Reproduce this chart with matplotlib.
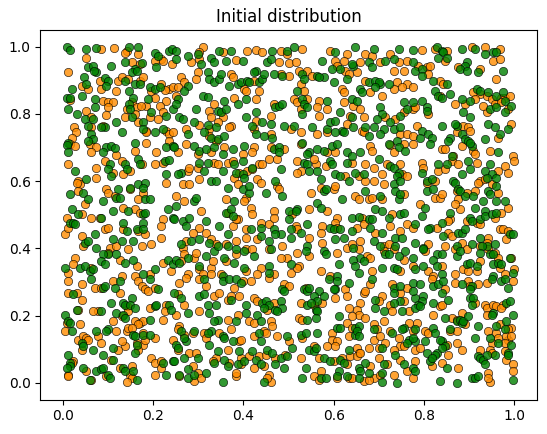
import matplotlib
matplotlib.use("Agg")
import matplotlib.pyplot as plt

# agent positions, split in three horizontal bands (y > 0.67, 0.31-0.67, < 0.31)
orange_top = [
    (0.085,0.993),(0.113,0.995),(0.141,0.988),(0.138,0.980),(0.166,0.978),(0.218,0.964),(0.222,0.959),(0.052,0.968),
    (0.152,0.954),(0.170,0.949),(0.203,0.957),(0.241,0.949),(0.010,0.924),(0.082,0.899),(0.122,0.899),(0.130,0.909),
    (0.144,0.904),(0.170,0.899),(0.177,0.911),(0.218,0.889),(0.236,0.874),(0.244,0.879),(0.225,0.871),(0.041,0.884),
    (0.056,0.874),(0.085,0.874),(0.118,0.869),(0.196,0.869),(0.015,0.842),(0.089,0.840),(0.100,0.835),(0.111,0.835),
    (0.152,0.835),(0.203,0.849),(0.229,0.840),(0.185,0.825),(0.214,0.825),(0.100,0.820),(0.141,0.815),(0.163,0.820),
    (0.172,0.825),(0.052,0.810),(0.096,0.798),(0.159,0.800),(0.192,0.790),(0.222,0.805),(0.062,0.790),(0.137,0.790),
    (0.166,0.775),(0.210,0.785),(0.024,0.762),(0.028,0.745),(0.063,0.760),(0.089,0.765),(0.185,0.750),(0.183,0.745),
    (0.229,0.750),(0.236,0.740),(0.244,0.745),(0.019,0.730),(0.015,0.711),(0.026,0.706),(0.060,0.711),(0.074,0.701),
    (0.185,0.715),(0.236,0.720),(0.063,0.686),(0.118,0.679),(0.159,0.691),(0.207,0.686),
    (0.310,0.998),(0.302,0.983),(0.284,0.954),(0.302,0.964),(0.354,0.983),(0.383,0.961),(0.409,0.988),(0.427,0.990),
    (0.442,0.983),(0.483,0.988),(0.497,0.978),(0.479,0.954),(0.501,0.951),(0.299,0.924),(0.262,0.909),(0.269,0.894),
    (0.372,0.919),(0.376,0.909),(0.402,0.874),(0.405,0.869),(0.424,0.899),(0.435,0.869),(0.483,0.919),(0.501,0.914),
    (0.295,0.904),(0.254,0.879),(0.251,0.854),(0.335,0.830),(0.379,0.849),(0.427,0.844),(0.468,0.830),(0.512,0.844),
    (0.324,0.810),(0.328,0.790),(0.354,0.790),(0.372,0.765),(0.368,0.760),(0.427,0.780),(0.460,0.795),(0.273,0.755),
    (0.302,0.768),(0.324,0.755),(0.343,0.775),(0.424,0.755),(0.505,0.755),(0.324,0.735),(0.339,0.720),(0.460,0.740),
    (0.273,0.711),(0.299,0.681),(0.357,0.701),(0.424,0.701),(0.420,0.686),(0.460,0.701),(0.490,0.696),(0.254,0.686),
    (0.328,0.686),(0.398,0.681),
    (0.530,0.993),(0.593,0.988),(0.630,0.978),(0.670,0.978),(0.685,0.973),(0.725,0.978),(0.516,0.954),(0.523,0.929),
    (0.541,0.929),(0.552,0.914),(0.604,0.959),(0.622,0.959),(0.608,0.944),(0.626,0.929),(0.659,0.954),(0.703,0.954),
    (0.744,0.954),(0.762,0.959),(0.527,0.889),(0.633,0.919),(0.652,0.924),(0.670,0.899),(0.740,0.894),(0.762,0.889),
    (0.733,0.929),(0.755,0.929),(0.534,0.869),(0.541,0.844),(0.519,0.835),(0.619,0.874),(0.622,0.864),(0.681,0.864),
    (0.707,0.854),(0.733,0.874),(0.751,0.879),(0.567,0.840),(0.564,0.820),(0.586,0.815),(0.527,0.815),(0.622,0.835),
    (0.644,0.825),(0.637,0.795),(0.659,0.815),(0.667,0.790),(0.714,0.790),(0.737,0.785),(0.755,0.805),(0.567,0.795),
    (0.630,0.770),(0.527,0.745),(0.564,0.740),(0.586,0.745),(0.663,0.750),(0.667,0.745),(0.747,0.740),(0.762,0.740),
    (0.527,0.711),(0.604,0.686),(0.586,0.686),(0.681,0.706),(0.685,0.691),(0.725,0.709),(0.733,0.686),(0.755,0.711),
    (0.795,0.990),(0.825,0.993),(0.851,0.988),(0.847,0.959),(0.906,0.998),(0.935,0.998),(0.968,0.993),(0.954,0.959),
    (0.968,0.964),(0.788,0.944),(0.806,0.939),(0.814,0.944),(0.810,0.919),(0.876,0.939),(0.924,0.934),(0.777,0.879),
    (0.836,0.899),(0.843,0.889),(0.961,0.904),(0.836,0.854),(0.924,0.859),(0.909,0.864),(0.939,0.854),(0.950,0.844),
    (0.972,0.849),(0.979,0.849),(0.990,0.854),(0.869,0.830),(0.891,0.830),(0.913,0.844),(0.777,0.815),(0.781,0.820),
    (0.810,0.800),(0.939,0.805),(0.957,0.830),(0.972,0.835),(0.987,0.815),(0.932,0.825),(0.784,0.765),(0.777,0.735),
    (0.777,0.711),(0.873,0.745),(0.887,0.765),(0.898,0.760),(0.902,0.750),(0.840,0.696),(0.847,0.696),(0.965,0.730),
    (0.994,0.770),(0.884,0.706),(0.909,0.691),(0.913,0.681),(0.865,0.676),(0.946,0.691),(0.998,0.676),
]

green_top = [
    (0.008,0.998),(0.015,0.991),(0.050,0.993),(0.074,0.995),(0.146,0.998),(0.166,0.998),(0.203,0.980),(0.210,0.973),
    (0.236,0.988),(0.241,0.993),(0.138,0.954),(0.175,0.951),(0.207,0.939),(0.056,0.939),(0.067,0.944),(0.074,0.924),
    (0.069,0.929),(0.107,0.944),(0.159,0.934),(0.152,0.924),(0.165,0.929),(0.047,0.911),(0.093,0.907),(0.099,0.899),
    (0.096,0.884),(0.137,0.899),(0.159,0.889),(0.170,0.889),(0.192,0.879),(0.203,0.874),(0.052,0.889),(0.019,0.874),
    (0.146,0.869),(0.214,0.879),(0.008,0.849),(0.015,0.847),(0.041,0.854),(0.071,0.844),(0.155,0.849),(0.146,0.830),
    (0.188,0.844),(0.244,0.815),(0.012,0.815),(0.071,0.820),(0.148,0.815),(0.030,0.800),(0.152,0.792),(0.196,0.805),
    (0.229,0.795),(0.049,0.785),(0.067,0.785),(0.118,0.775),(0.177,0.775),(0.056,0.765),(0.093,0.762),(0.085,0.762),
    (0.130,0.745),(0.177,0.755),(0.203,0.745),(0.222,0.755),(0.063,0.740),(0.067,0.725),(0.056,0.720),(0.012,0.715),
    (0.008,0.709),(0.096,0.701),(0.107,0.706),(0.115,0.699),(0.089,0.686),(0.159,0.713),(0.229,0.703),(0.244,0.706),
    (0.012,0.686),
    (0.251,0.988),(0.251,0.964),(0.276,0.973),(0.299,0.978),(0.306,0.949),(0.328,0.968),(0.335,0.954),(0.346,0.988),
    (0.372,0.988),(0.361,0.959),(0.398,0.959),(0.464,0.986),(0.497,0.988),(0.453,0.954),(0.460,0.964),(0.276,0.884),
    (0.269,0.869),(0.321,0.924),(0.324,0.904),(0.335,0.894),(0.346,0.904),(0.350,0.919),(0.368,0.884),(0.387,0.889),
    (0.394,0.894),(0.409,0.899),(0.413,0.894),(0.427,0.929),(0.424,0.924),(0.435,0.894),(0.442,0.904),(0.446,0.919),
    (0.468,0.919),(0.486,0.914),(0.254,0.844),(0.251,0.830),(0.310,0.854),(0.321,0.851),(0.357,0.840),(0.387,0.830),
    (0.405,0.844),(0.471,0.820),(0.479,0.825),(0.486,0.830),(0.295,0.815),(0.343,0.810),(0.350,0.805),(0.361,0.815),
    (0.405,0.790),(0.427,0.805),(0.258,0.790),(0.265,0.785),(0.276,0.740),(0.291,0.775),(0.321,0.768),(0.339,0.760),
    (0.420,0.765),(0.442,0.775),(0.460,0.770),(0.490,0.765),(0.313,0.745),(0.328,0.730),(0.343,0.725),(0.357,0.735),
    (0.427,0.740),(0.446,0.735),(0.464,0.730),(0.291,0.706),(0.302,0.691),(0.317,0.696),(0.354,0.681),(0.376,0.696),
    (0.402,0.706),(0.468,0.696),(0.479,0.701),(0.479,0.686),(0.247,0.701),(0.335,0.701),
    (0.512,0.998),(0.604,0.983),(0.648,0.998),(0.689,0.993),(0.744,0.993),(0.575,0.959),(0.597,0.934),(0.615,0.934),
    (0.644,0.944),(0.641,0.949),(0.678,0.954),(0.685,0.939),(0.714,0.959),(0.733,0.964),(0.530,0.919),(0.534,0.904),
    (0.564,0.914),(0.578,0.909),(0.567,0.909),(0.630,0.904),(0.600,0.894),(0.678,0.894),(0.692,0.899),(0.703,0.889),
    (0.700,0.894),(0.722,0.889),(0.519,0.869),(0.530,0.844),(0.641,0.844),(0.659,0.874),(0.663,0.864),(0.692,0.879),
    (0.586,0.840),(0.534,0.830),(0.541,0.820),(0.652,0.840),(0.615,0.805),(0.641,0.790),(0.703,0.820),(0.707,0.800),
    (0.725,0.775),(0.747,0.795),(0.755,0.835),(0.762,0.815),(0.530,0.800),(0.512,0.765),(0.552,0.760),(0.586,0.755),
    (0.593,0.775),(0.604,0.780),(0.619,0.750),(0.644,0.760),(0.604,0.745),(0.622,0.745),(0.670,0.760),(0.689,0.760),
    (0.696,0.785),(0.711,0.755),(0.733,0.755),(0.747,0.760),(0.678,0.735),(0.703,0.740),(0.530,0.715),(0.545,0.686),
    (0.541,0.681),(0.564,0.696),(0.578,0.691),(0.597,0.706),(0.608,0.711),(0.630,0.686),(0.641,0.676),(0.659,0.686),
    (0.722,0.711),(0.740,0.720),(0.744,0.701),(0.759,0.691),
    (0.775,0.991),(0.829,1.000),(0.840,0.988),(0.843,0.983),(0.832,0.968),(0.851,0.968),(0.884,0.993),(0.913,0.993),
    (0.935,0.978),(0.954,0.983),(0.961,0.983),(0.777,0.954),(0.781,0.929),(0.795,0.934),(0.795,0.914),(0.895,0.954),
    (0.891,0.944),(0.880,0.934),(0.895,0.929),(0.921,0.924),(0.976,0.929),(0.821,0.899),(0.851,0.889),(0.825,0.869),
    (0.832,0.854),(0.840,0.849),(0.858,0.859),(0.917,0.874),(0.924,0.869),(0.943,0.864),(0.961,0.854),(0.976,0.864),
    (0.884,0.844),(0.902,0.840),(0.777,0.835),(0.795,0.840),(0.806,0.820),(0.806,0.810),(0.946,0.815),(0.961,0.820),
    (0.979,0.840),(0.994,0.825),(0.979,0.805),(0.887,0.805),(0.902,0.790),(0.795,0.750),(0.792,0.730),(0.810,0.740),
    (0.818,0.730),(0.814,0.711),(0.840,0.765),(0.873,0.765),(0.869,0.770),(0.884,0.740),(0.858,0.730),(0.854,0.720),
    (0.943,0.770),(0.957,0.760),(0.987,0.755),(0.968,0.740),(0.935,0.725),(0.891,0.725),(0.898,0.720),(0.906,0.706),
    (0.902,0.715),(0.862,0.676),(0.965,0.686),
]

orange_mid = [
    (0.010,0.652),(0.034,0.601),(0.038,0.591),(0.030,0.596),(0.074,0.640),(0.074,0.610),(0.093,0.660),(0.111,0.625),
    (0.130,0.660),(0.133,0.620),(0.148,0.630),(0.174,0.650),(0.203,0.650),(0.222,0.655),(0.229,0.596),(0.034,0.571),
    (0.049,0.531),(0.096,0.576),(0.100,0.566),(0.115,0.556),(0.148,0.576),(0.177,0.566),(0.166,0.546),(0.008,0.491),
    (0.041,0.501),(0.063,0.491),(0.082,0.491),(0.133,0.521),(0.159,0.516),(0.170,0.506),(0.222,0.487),(0.004,0.442),
    (0.012,0.462),(0.045,0.407),(0.041,0.437),(0.093,0.457),(0.100,0.462),(0.104,0.402),(0.133,0.457),(0.144,0.397),
    (0.166,0.452),(0.181,0.442),(0.218,0.467),(0.218,0.432),(0.196,0.412),(0.174,0.407),(0.118,0.407),(0.100,0.387),
    (0.126,0.367),(0.163,0.348),(0.026,0.372),(0.023,0.353),(0.012,0.328),(0.063,0.343),(0.130,0.318),(0.159,0.318),
    (0.192,0.323),(0.222,0.358),(0.240,0.333),
    (0.276,0.630),(0.280,0.640),(0.299,0.640),(0.335,0.655),(0.343,0.650),(0.365,0.655),(0.376,0.660),(0.391,0.625),
    (0.409,0.630),(0.420,0.635),(0.435,0.650),(0.442,0.650),(0.457,0.665),(0.475,0.665),(0.265,0.591),(0.280,0.591),
    (0.302,0.606),(0.379,0.610),(0.387,0.591),(0.405,0.551),(0.431,0.606),(0.438,0.596),(0.475,0.586),(0.479,0.576),
    (0.251,0.556),(0.269,0.541),(0.306,0.511),(0.361,0.546),(0.402,0.541),(0.365,0.506),(0.387,0.487),(0.416,0.521),
    (0.420,0.501),(0.438,0.477),(0.468,0.511),(0.508,0.501),(0.302,0.462),(0.288,0.447),(0.376,0.467),(0.383,0.487),
    (0.405,0.457),(0.457,0.472),(0.468,0.491),(0.265,0.402),(0.273,0.422),(0.317,0.447),(0.328,0.427),(0.339,0.412),
    (0.361,0.412),(0.383,0.422),(0.405,0.432),(0.405,0.397),(0.420,0.397),(0.431,0.427),(0.457,0.397),(0.486,0.407),
    (0.497,0.372),(0.269,0.382),(0.262,0.362),(0.291,0.372),(0.295,0.387),(0.302,0.338),(0.328,0.343),(0.332,0.362),
    (0.361,0.362),(0.383,0.382),(0.405,0.333),(0.438,0.343),(0.468,0.323),(0.483,0.372),(0.505,0.328),(0.276,0.323),
    (0.310,0.323),(0.328,0.323),(0.350,0.323),(0.431,0.323),
    (0.519,0.660),(0.527,0.630),(0.560,0.650),(0.556,0.665),(0.582,0.645),(0.641,0.655),(0.670,0.650),(0.689,0.640),
    (0.707,0.620),(0.718,0.650),(0.747,0.650),(0.751,0.620),(0.519,0.625),(0.626,0.615),(0.656,0.615),(0.670,0.601),
    (0.689,0.601),(0.711,0.591),(0.762,0.615),(0.549,0.566),(0.571,0.581),(0.600,0.576),(0.604,0.586),(0.648,0.556),
    (0.656,0.546),(0.678,0.546),(0.685,0.551),(0.707,0.546),(0.755,0.561),(0.545,0.516),(0.586,0.511),(0.608,0.491),
    (0.663,0.491),(0.729,0.501),(0.516,0.467),(0.519,0.457),(0.545,0.432),(0.575,0.467),(0.604,0.477),(0.608,0.462),
    (0.652,0.462),(0.667,0.472),(0.692,0.447),(0.725,0.467),(0.747,0.452),(0.762,0.472),(0.571,0.447),(0.575,0.417),
    (0.630,0.402),(0.641,0.412),(0.659,0.422),(0.711,0.407),(0.722,0.412),(0.519,0.387),(0.545,0.377),(0.608,0.387),
    (0.656,0.397),(0.674,0.377),(0.681,0.372),(0.711,0.392),(0.733,0.397),(0.755,0.367),(0.523,0.348),(0.519,0.343),
    (0.571,0.333),(0.593,0.318),(0.685,0.333),(0.747,0.333),
    (0.795,0.655),(0.799,0.640),(0.832,0.630),(0.847,0.635),(0.862,0.660),(0.876,0.650),(0.917,0.655),(0.924,0.601),
    (0.921,0.596),(0.935,0.606),(0.965,0.630),(0.979,0.645),(0.987,0.625),(0.999,0.660),(0.806,0.596),(0.825,0.601),
    (0.825,0.551),(0.836,0.551),(0.840,0.561),(0.873,0.571),(0.876,0.546),(0.895,0.566),(0.913,0.571),(0.965,0.566),
    (0.950,0.591),(0.792,0.531),(0.858,0.487),(0.854,0.482),(0.880,0.516),(0.869,0.531),(0.895,0.482),(0.917,0.477),
    (0.924,0.472),(0.957,0.491),(0.987,0.521),(0.972,0.506),(0.777,0.462),(0.829,0.462),(0.854,0.447),(0.862,0.437),
    (0.943,0.432),(0.939,0.417),(0.968,0.457),(0.976,0.457),(0.987,0.452),(0.983,0.427),(0.803,0.392),(0.810,0.412),
    (0.847,0.407),(0.869,0.397),(0.884,0.417),(0.895,0.397),(0.924,0.407),(0.943,0.397),(0.957,0.387),(0.965,0.372),
    (0.777,0.348),(0.810,0.333),(0.840,0.348),(0.821,0.318),(0.869,0.323),(0.887,0.338),(0.898,0.333),(0.924,0.362),
    (0.917,0.333),(0.968,0.343),(0.994,0.372),(0.999,0.338),(0.979,0.323),
]

green_mid = [
    (0.026,0.630),(0.052,0.606),(0.104,0.650),(0.100,0.635),(0.107,0.615),(0.137,0.650),(0.141,0.635),(0.166,0.665),
    (0.170,0.650),(0.225,0.660),(0.236,0.662),(0.229,0.620),(0.015,0.561),(0.045,0.566),(0.056,0.546),(0.089,0.541),
    (0.122,0.576),(0.118,0.551),(0.126,0.551),(0.148,0.581),(0.166,0.591),(0.181,0.596),(0.177,0.581),(0.181,0.546),
    (0.192,0.546),(0.019,0.516),(0.015,0.477),(0.023,0.477),(0.026,0.472),(0.034,0.501),(0.085,0.491),(0.111,0.511),
    (0.144,0.511),(0.177,0.501),(0.181,0.506),(0.177,0.477),(0.233,0.516),(0.244,0.491),(0.049,0.417),(0.056,0.422),
    (0.071,0.442),(0.074,0.402),(0.111,0.427),(0.133,0.477),(0.141,0.452),(0.130,0.422),(0.155,0.422),(0.163,0.457),
    (0.177,0.457),(0.118,0.382),(0.100,0.382),(0.089,0.382),(0.085,0.362),(0.093,0.353),(0.137,0.358),(0.155,0.367),
    (0.004,0.343),(0.038,0.343),(0.049,0.348),(0.060,0.333),(0.067,0.338),(0.177,0.323),(0.203,0.338),(0.233,0.367),
    (0.244,0.353),
    (0.262,0.625),(0.254,0.620),(0.302,0.655),(0.313,0.630),(0.321,0.655),(0.354,0.630),(0.379,0.650),(0.383,0.625),
    (0.398,0.660),(0.398,0.620),(0.402,0.610),(0.420,0.640),(0.483,0.635),(0.328,0.601),(0.339,0.601),(0.365,0.581),
    (0.398,0.576),(0.413,0.566),(0.413,0.586),(0.449,0.566),(0.471,0.601),(0.486,0.556),(0.251,0.526),(0.291,0.541),
    (0.295,0.551),(0.379,0.541),(0.361,0.506),(0.372,0.516),(0.376,0.496),(0.501,0.511),(0.247,0.487),(0.265,0.482),
    (0.280,0.491),(0.317,0.482),(0.273,0.467),(0.346,0.467),(0.365,0.442),(0.416,0.457),(0.438,0.462),(0.468,0.457),
    (0.501,0.487),(0.505,0.457),(0.483,0.442),(0.262,0.412),(0.284,0.422),(0.302,0.427),(0.324,0.417),(0.335,0.392),
    (0.343,0.407),(0.365,0.407),(0.383,0.397),(0.402,0.392),(0.424,0.377),(0.438,0.437),(0.457,0.422),(0.471,0.442),
    (0.460,0.397),(0.505,0.432),(0.251,0.367),(0.258,0.358),(0.276,0.372),(0.302,0.348),(0.317,0.377),(0.357,0.372),
    (0.379,0.358),(0.402,0.343),(0.457,0.348),(0.457,0.328),(0.505,0.353),(0.354,0.318),
    (0.534,0.655),(0.541,0.650),(0.545,0.630),(0.593,0.660),(0.597,0.650),(0.630,0.655),(0.700,0.665),(0.725,0.645),
    (0.733,0.640),(0.744,0.625),(0.740,0.615),(0.564,0.630),(0.571,0.606),(0.604,0.620),(0.615,0.615),(0.633,0.601),
    (0.648,0.625),(0.667,0.620),(0.733,0.591),(0.747,0.601),(0.578,0.571),(0.582,0.576),(0.619,0.546),(0.670,0.571),
    (0.703,0.556),(0.737,0.571),(0.744,0.546),(0.747,0.561),(0.519,0.516),(0.516,0.511),(0.564,0.536),(0.571,0.521),
    (0.641,0.491),(0.656,0.493),(0.678,0.487),(0.685,0.487),(0.692,0.516),(0.707,0.511),(0.722,0.491),(0.747,0.501),
    (0.755,0.506),(0.527,0.447),(0.541,0.472),(0.593,0.462),(0.600,0.457),(0.615,0.457),(0.641,0.452),(0.681,0.462),
    (0.707,0.447),(0.737,0.432),(0.751,0.432),(0.604,0.427),(0.622,0.432),(0.644,0.402),(0.689,0.422),(0.703,0.407),
    (0.737,0.407),(0.541,0.407),(0.538,0.392),(0.578,0.392),(0.582,0.382),(0.659,0.372),(0.667,0.362),(0.714,0.382),
    (0.722,0.382),(0.744,0.377),(0.759,0.392),(0.611,0.353),(0.608,0.318),(0.644,0.367),(0.648,0.348),(0.656,0.328),
    (0.707,0.343),(0.733,0.343),(0.740,0.338),
    (0.795,0.625),(0.832,0.650),(0.851,0.650),(0.884,0.620),(0.898,0.660),(0.902,0.635),(0.935,0.630),(0.946,0.650),
    (0.950,0.620),(0.939,0.610),(0.961,0.610),(0.806,0.601),(0.818,0.606),(0.806,0.571),(0.821,0.576),(0.865,0.601),
    (0.869,0.596),(0.876,0.576),(0.880,0.571),(0.891,0.556),(0.909,0.556),(0.932,0.541),(0.943,0.571),(0.946,0.561),
    (0.979,0.541),(0.961,0.541),(0.961,0.586),(0.803,0.521),(0.858,0.506),(0.913,0.521),(0.902,0.491),(0.906,0.482),
    (0.924,0.487),(0.935,0.511),(0.935,0.496),(0.950,0.501),(0.961,0.506),(0.781,0.472),(0.795,0.496),(0.814,0.462),
    (0.810,0.457),(0.840,0.477),(0.876,0.447),(0.884,0.447),(0.891,0.457),(0.843,0.437),(0.924,0.432),(0.939,0.407),
    (0.957,0.412),(0.990,0.442),(0.998,0.442),(0.781,0.417),(0.799,0.402),(0.799,0.397),(0.829,0.382),(0.840,0.382),
    (0.873,0.407),(0.873,0.377),(0.880,0.392),(0.906,0.412),(0.928,0.407),(0.924,0.387),(0.946,0.382),(0.954,0.382),
    (0.990,0.372),(0.777,0.372),(0.781,0.338),(0.799,0.348),(0.821,0.367),(0.829,0.348),(0.840,0.323),(0.895,0.353),
    (0.902,0.358),(0.917,0.348),(0.954,0.353),(0.965,0.358),(0.972,0.353),(0.998,0.328),(0.954,0.318),
]

orange_low = [
    (0.010,0.303),(0.041,0.295),(0.071,0.283),(0.085,0.283),(0.111,0.303),(0.126,0.268),(0.166,0.303),(0.174,0.288),
    (0.181,0.278),(0.188,0.273),(0.203,0.283),(0.012,0.268),(0.030,0.268),(0.041,0.248),(0.078,0.213),(0.141,0.228),
    (0.144,0.213),(0.130,0.198),(0.192,0.223),(0.229,0.233),(0.008,0.179),(0.004,0.154),(0.038,0.174),(0.034,0.218),
    (0.067,0.213),(0.111,0.184),(0.118,0.154),(0.078,0.139),(0.159,0.184),(0.170,0.179),(0.177,0.184),(0.166,0.174),
    (0.222,0.188),(0.225,0.213),(0.141,0.154),(0.144,0.164),(0.152,0.164),(0.177,0.149),(0.203,0.134),(0.163,0.119),
    (0.177,0.114),(0.181,0.129),(0.137,0.109),(0.130,0.124),(0.244,0.129),(0.034,0.129),(0.045,0.139),(0.052,0.134),
    (0.056,0.129),(0.041,0.099),(0.085,0.119),(0.122,0.099),(0.166,0.099),(0.023,0.064),(0.019,0.060),(0.012,0.025),
    (0.012,0.020),(0.052,0.035),(0.096,0.020),(0.107,0.069),(0.126,0.045),(0.152,0.050),(0.148,0.025),(0.152,0.015),
    (0.141,0.002),(0.196,0.074),(0.203,0.060),(0.218,0.064),(0.218,0.045),(0.203,0.025),(0.063,0.010),
    (0.258,0.298),(0.273,0.313),(0.254,0.263),(0.302,0.308),(0.317,0.288),(0.379,0.283),(0.398,0.303),(0.416,0.303),
    (0.457,0.313),(0.490,0.293),(0.501,0.288),(0.335,0.258),(0.346,0.268),(0.365,0.248),(0.372,0.258),(0.391,0.258),
    (0.424,0.253),(0.431,0.243),(0.468,0.238),(0.453,0.218),(0.269,0.233),(0.251,0.203),(0.302,0.213),(0.365,0.188),
    (0.387,0.203),(0.413,0.184),(0.424,0.179),(0.460,0.184),(0.258,0.169),(0.254,0.159),(0.269,0.144),(0.288,0.149),
    (0.313,0.149),(0.317,0.134),(0.346,0.149),(0.372,0.159),(0.391,0.124),(0.394,0.129),(0.424,0.139),(0.446,0.154),
    (0.449,0.149),(0.464,0.169),(0.475,0.139),(0.501,0.124),(0.254,0.099),(0.365,0.099),(0.339,0.074),(0.332,0.064),
    (0.368,0.060),(0.394,0.074),(0.394,0.055),(0.413,0.079),(0.435,0.079),(0.449,0.084),(0.446,0.050),(0.471,0.074),
    (0.493,0.084),(0.280,0.089),(0.295,0.089),(0.288,0.050),(0.258,0.020),(0.291,0.005),(0.299,0.030),(0.306,0.015),
    (0.383,0.020),(0.383,0.030),(0.424,0.045),(0.457,0.025),(0.460,0.002),(0.453,0.015),
    (0.538,0.283),(0.626,0.278),(0.630,0.258),(0.667,0.268),(0.670,0.273),(0.681,0.293),(0.707,0.258),(0.729,0.293),
    (0.762,0.283),(0.747,0.268),(0.527,0.238),(0.575,0.238),(0.556,0.233),(0.604,0.253),(0.659,0.238),(0.700,0.243),
    (0.725,0.233),(0.729,0.213),(0.755,0.243),(0.766,0.213),(0.523,0.193),(0.530,0.188),(0.633,0.223),(0.652,0.218),
    (0.656,0.203),(0.641,0.198),(0.670,0.193),(0.630,0.179),(0.689,0.174),(0.711,0.184),(0.696,0.159),(0.766,0.179),
    (0.530,0.134),(0.597,0.149),(0.597,0.129),(0.608,0.124),(0.641,0.164),(0.633,0.139),(0.689,0.129),(0.703,0.139),
    (0.714,0.119),(0.725,0.154),(0.744,0.134),(0.747,0.109),(0.556,0.109),(0.586,0.109),(0.604,0.109),(0.652,0.104),
    (0.656,0.089),(0.678,0.104),(0.700,0.104),(0.637,0.079),(0.652,0.079),(0.733,0.099),(0.755,0.109),(0.527,0.074),
    (0.567,0.074),(0.600,0.064),(0.619,0.074),(0.630,0.055),(0.659,0.089),(0.681,0.050),(0.700,0.074),(0.718,0.055),
    (0.747,0.069),(0.762,0.035),(0.556,0.020),(0.571,0.035),(0.567,0.010),(0.608,0.015),(0.633,0.015),(0.641,0.015),
    (0.667,0.005),(0.689,0.015),(0.703,0.025),(0.733,0.025),(0.678,0.010),
    (0.818,0.308),(0.847,0.278),(0.869,0.298),(0.898,0.303),(0.902,0.288),(0.921,0.293),(0.939,0.298),(0.998,0.303),
    (0.836,0.228),(0.840,0.233),(0.913,0.238),(0.935,0.233),(0.939,0.223),(0.954,0.233),(0.961,0.228),(0.976,0.233),
    (0.972,0.223),(0.821,0.203),(0.862,0.193),(0.873,0.188),(0.884,0.208),(0.891,0.174),(0.939,0.203),(0.968,0.174),
    (0.994,0.164),(0.987,0.159),(0.784,0.179),(0.777,0.154),(0.803,0.154),(0.810,0.149),(0.858,0.154),(0.873,0.154),
    (0.943,0.154),(0.961,0.149),(0.950,0.119),(0.965,0.134),(0.987,0.129),(0.983,0.139),(0.994,0.139),(0.979,0.119),
    (0.781,0.099),(0.792,0.104),(0.854,0.084),(0.851,0.114),(0.873,0.119),(0.884,0.099),(0.924,0.099),(0.946,0.099),
    (0.950,0.089),(0.979,0.094),(0.983,0.069),(0.781,0.064),(0.777,0.015),(0.818,0.050),(0.840,0.060),(0.876,0.045),
    (0.943,0.030),(0.946,0.002),(0.943,0.015),(0.998,0.055),(0.998,0.035),
]

green_low = [
    (0.063,0.308),(0.089,0.283),(0.093,0.288),(0.115,0.283),(0.126,0.303),(0.192,0.308),(0.210,0.278),(0.023,0.263),
    (0.107,0.238),(0.085,0.213),(0.118,0.208),(0.133,0.238),(0.137,0.233),(0.152,0.253),(0.148,0.233),(0.159,0.223),
    (0.133,0.203),(0.137,0.193),(0.203,0.228),(0.207,0.233),(0.236,0.233),(0.240,0.218),(0.004,0.203),(0.012,0.184),
    (0.015,0.179),(0.019,0.154),(0.030,0.218),(0.100,0.159),(0.096,0.154),(0.074,0.154),(0.192,0.188),(0.155,0.144),
    (0.159,0.139),(0.177,0.144),(0.192,0.144),(0.163,0.114),(0.041,0.119),(0.045,0.109),(0.067,0.099),(0.111,0.104),
    (0.089,0.084),(0.159,0.089),(0.012,0.084),(0.015,0.060),(0.015,0.050),(0.008,0.045),(0.045,0.045),(0.074,0.035),
    (0.085,0.040),(0.089,0.045),(0.100,0.025),(0.104,0.015),(0.111,0.069),(0.133,0.045),(0.137,0.035),(0.155,0.035),
    (0.163,0.010),(0.222,0.060),(0.244,0.064),(0.229,0.025),(0.060,0.010),
    (0.247,0.268),(0.262,0.253),(0.313,0.308),(0.354,0.303),(0.368,0.308),(0.383,0.308),(0.394,0.298),(0.486,0.278),
    (0.490,0.273),(0.302,0.258),(0.313,0.263),(0.372,0.248),(0.405,0.233),(0.442,0.238),(0.449,0.243),(0.457,0.233),
    (0.446,0.223),(0.483,0.243),(0.471,0.218),(0.486,0.223),(0.276,0.208),(0.321,0.233),(0.324,0.208),(0.339,0.233),
    (0.343,0.188),(0.335,0.184),(0.383,0.184),(0.405,0.208),(0.431,0.203),(0.438,0.184),(0.475,0.213),(0.262,0.154),
    (0.291,0.154),(0.328,0.154),(0.321,0.149),(0.354,0.139),(0.357,0.134),(0.376,0.124),(0.435,0.149),(0.438,0.124),
    (0.497,0.139),(0.251,0.114),(0.254,0.104),(0.273,0.124),(0.269,0.134),(0.324,0.114),(0.343,0.094),(0.335,0.060),
    (0.357,0.069),(0.365,0.050),(0.391,0.094),(0.387,0.055),(0.402,0.064),(0.420,0.094),(0.427,0.069),(0.438,0.055),
    (0.453,0.099),(0.464,0.089),(0.471,0.055),(0.483,0.074),(0.497,0.079),(0.508,0.104),(0.247,0.064),(0.269,0.074),
    (0.299,0.074),(0.276,0.040),(0.258,0.025),(0.276,0.015),(0.291,0.025),(0.317,0.030),(0.354,0.002),(0.446,0.002),
    (0.490,0.045),
    (0.534,0.278),(0.541,0.273),(0.545,0.283),(0.567,0.273),(0.589,0.308),(0.608,0.303),(0.604,0.278),(0.633,0.298),
    (0.685,0.308),(0.733,0.283),(0.747,0.288),(0.733,0.268),(0.556,0.258),(0.564,0.243),(0.578,0.258),(0.541,0.233),
    (0.549,0.238),(0.560,0.218),(0.564,0.213),(0.600,0.278),(0.692,0.248),(0.692,0.223),(0.711,0.213),(0.747,0.243),
    (0.733,0.238),(0.751,0.213),(0.541,0.188),(0.560,0.193),(0.611,0.198),(0.608,0.164),(0.648,0.164),(0.656,0.169),
    (0.755,0.164),(0.751,0.159),(0.527,0.144),(0.538,0.149),(0.564,0.149),(0.615,0.164),(0.648,0.144),(0.652,0.154),
    (0.656,0.139),(0.689,0.159),(0.729,0.149),(0.766,0.129),(0.762,0.119),(0.545,0.099),(0.556,0.094),(0.560,0.104),
    (0.707,0.104),(0.633,0.099),(0.578,0.074),(0.593,0.064),(0.615,0.069),(0.622,0.060),(0.670,0.060),(0.711,0.055),
    (0.707,0.030),(0.737,0.084),(0.755,0.055),(0.538,0.045),(0.571,0.015),(0.582,0.015),(0.611,0.035),(0.608,0.020),
    (0.630,0.020),(0.656,0.045),(0.659,0.035),(0.656,0.015),(0.707,0.002),(0.740,0.001),(0.530,0.015),(0.678,0.030),
    (0.777,0.298),(0.792,0.293),(0.821,0.288),(0.832,0.293),(0.843,0.303),(0.840,0.268),(0.884,0.293),(0.906,0.288),
    (0.902,0.278),(0.950,0.308),(0.972,0.303),(0.979,0.308),(0.987,0.283),(0.781,0.253),(0.777,0.273),(0.799,0.258),
    (0.795,0.243),(0.788,0.233),(0.781,0.223),(0.792,0.228),(0.821,0.238),(0.854,0.248),(0.902,0.253),(0.909,0.253),
    (0.906,0.233),(0.954,0.208),(0.950,0.203),(0.983,0.238),(0.990,0.243),(0.998,0.203),(0.847,0.193),(0.873,0.184),
    (0.880,0.188),(0.884,0.179),(0.887,0.184),(0.898,0.198),(0.921,0.169),(0.961,0.169),(0.983,0.184),(0.979,0.159),
    (0.781,0.159),(0.821,0.164),(0.825,0.149),(0.858,0.159),(0.946,0.134),(0.965,0.119),(0.994,0.114),(0.781,0.124),
    (0.777,0.134),(0.803,0.124),(0.806,0.089),(0.840,0.124),(0.836,0.129),(0.847,0.109),(0.829,0.089),(0.825,0.084),
    (0.840,0.104),(0.913,0.134),(0.921,0.079),(0.924,0.074),(0.932,0.069),(0.939,0.084),(0.935,0.055),(0.957,0.084),
    (0.987,0.089),(0.987,0.084),(0.777,0.045),(0.781,0.035),(0.814,0.064),(0.818,0.074),(0.851,0.045),(0.906,0.015),
    (0.913,0.015),(0.921,0.020),(0.998,0.010),(0.836,0.005),(0.873,0.001),
]

orange = orange_top + orange_mid + orange_low
green = green_top + green_mid + green_low

fig = plt.figure(figsize=(5.47, 4.34), dpi=100)
ax = fig.add_axes([0.074, 0.079, 0.907, 0.852])

ax.scatter([p[0] for p in orange], [p[1] for p in orange], s=36, c='darkorange',
           edgecolors='black', linewidths=0.5, alpha=0.8)
ax.scatter([p[0] for p in green], [p[1] for p in green], s=36, c='green',
           edgecolors='black', linewidths=0.5, alpha=0.8)

ax.set_xlim(-0.05, 1.05)
ax.set_ylim(-0.05, 1.05)
ax.set_title("Initial distribution")

fig.savefig("out.png", dpi=100)
